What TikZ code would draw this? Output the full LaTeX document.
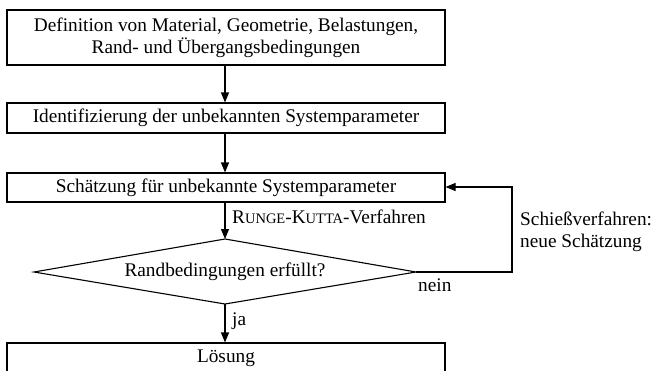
\documentclass[tikz,border=0pt]{standalone}
\usepackage{fontspec}
\setmainfont{Liberation Serif}
\usetikzlibrary{arrows.meta,shapes.geometric}
\newcommand{\fakesc}[1]{{\fontsize{14.5}{17}\selectfont #1}}
\begin{document}
\begin{tikzpicture}[x=1pt,y=-1pt,
  every node/.style={font=\fontsize{19.3}{22}\selectfont},
  box/.style={draw,line width=1.1pt,inner sep=0pt,minimum width=438pt,align=center},
  lab/.style={inner sep=0pt,anchor=west,align=left},
  conn/.style={line width=1.1pt,-{Triangle[length=10pt,width=8pt]}}]
\useasboundingbox (0,0) rectangle (652,370);
\node[box,minimum height=55pt] (b1) at (226,37.5) {Definition von Material, Geometrie, Belastungen,\\Rand- und Übergangsbedingungen};
\node[box,minimum height=30pt] (b2) at (226,118) {Identifizierung der unbekannten Systemparameter};
\node[box,minimum height=29pt] (b3) at (226,187.5) {Schätzung für unbekannte Systemparameter};
\coordinate (dt) at (225,239);
\coordinate (db) at (225,304);
\coordinate (dl) at (34,272);
\coordinate (dr) at (416,272);
\draw[line width=1.1pt] (dt) -- (dr) -- (db) -- (dl) -- cycle;
\node[inner sep=0pt] (d) at (225,272) {Randbedingungen erfüllt?};
\node[box,minimum height=40pt] (b4) at (226,363) {};
\node[inner sep=0pt] (t4) at (226,358) {Lösung};
\coordinate (c1) at (512,272);
\coordinate (c2) at (512,187);
\draw[conn] (b1.south -| dt) -- (b2.north -| dt);
\draw[conn] (b2.south -| dt) -- (b3.north -| dt);
\draw[conn] (b3.south -| dt) -- (dt);
\draw[conn] (db) -- (b4.north -| db);
\draw[conn] (dr) -- (c1) -- (c2) -- (b3.east |- c2);
\node[lab] (rk) at (232,217) {R\fakesc{UNGE}-K\fakesc{UTTA}-Verfahren};
\node[lab] (ja) at (232,321) {ja};
\node[lab] (nein) at (418,285) {nein};
\node[lab] (sv) at (520,232) {Schießverfahren:\\neue Schätzung};
\end{tikzpicture}
\end{document}
